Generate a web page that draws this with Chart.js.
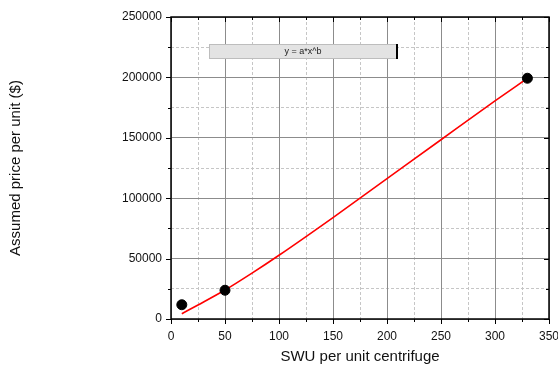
<!DOCTYPE html>
<html><head><meta charset="utf-8">
<script src="https://cdn.jsdelivr.net/npm/chart.js@4.4.1/dist/chart.umd.min.js"></script>
<style>html,body{margin:0;padding:0;background:#fff}#wrap{width:558px;height:369px}</style>
</head><body><div id="wrap"><canvas id="c" width="558" height="369"></canvas></div>
<script>
// measured data points
const swuPoints = [10, 50, 330];
const pricePoints = [11800, 23800, 199300];
// fitted curve y = a*x^b
const fitX = [10, 25, 50, 75, 100, 150, 200, 250, 300, 330];
const fitY = [4400, 11600, 24000, 38000, 52800, 84000, 116200, 148400, 180500, 199300];
// axis ticks
const xTicks = [0, 50, 100, 150, 200, 250, 300, 350];
const yTicks = [0, 50000, 100000, 150000, 200000, 250000];
const legendText = 'y = a*x^b';
const xTitle = 'SWU per unit centrifuge';
const yTitle = 'Assumed price per unit ($)';

const FONT = 'Liberation Sans, Arial, sans-serif';

const framePlugin = {
  id: 'frame',
  afterDraw(chart) {
    const ctx = chart.ctx, a = chart.chartArea;
    const xs = chart.scales.x, ys = chart.scales.y;
    ctx.save();
    ctx.strokeStyle = '#000';
    ctx.lineWidth = 1.5;
    ctx.strokeRect(a.left, a.top, a.right - a.left, a.bottom - a.top);
    ctx.lineWidth = 1;
    ctx.beginPath();
    for (let v = 0; v <= 350; v += 25) {
      const px = Math.round(xs.getPixelForValue(v)) + 0.5;
      const major = v % 50 === 0;
      const L = major ? 5 : 3;
      ctx.moveTo(px, a.bottom); ctx.lineTo(px, a.bottom + L);
      ctx.moveTo(px, a.top); ctx.lineTo(px, a.top + L);
    }
    for (let v = 0; v <= 250000; v += 25000) {
      const py = Math.round(ys.getPixelForValue(v)) + 0.5;
      const major = v % 50000 === 0;
      const L = major ? 5 : 3;
      ctx.moveTo(a.left, py); ctx.lineTo(a.left - L, py);
      ctx.moveTo(a.right, py); ctx.lineTo(a.right - L, py);
    }
    ctx.stroke();
    // legend box
    const bx = 209, by = 44, bw = 188, bh = 15;
    ctx.fillStyle = '#e3e3e3';
    ctx.fillRect(bx, by, bw, bh);
    ctx.strokeStyle = '#bdbdbd';
    ctx.lineWidth = 1;
    ctx.strokeRect(bx + 0.5, by + 0.5, bw - 1, bh - 1);
    ctx.strokeStyle = '#000';
    ctx.lineWidth = 2;
    ctx.beginPath(); ctx.moveTo(bx + bw, by); ctx.lineTo(bx + bw, by + bh); ctx.stroke();
    ctx.fillStyle = '#222';
    ctx.font = '9px ' + FONT;
    ctx.textAlign = 'center';
    ctx.textBaseline = 'middle';
    ctx.fillText(legendText, bx + bw / 2, by + bh / 2 + 0.5);
    ctx.restore();
  }
};

new Chart(document.getElementById('c'), {
  type: 'scatter',
  data: {
    datasets: [
      {
        label: 'fit',
        data: fitX.map((x, i) => ({x: x, y: fitY[i]})),
        showLine: true,
        borderColor: '#ff0000',
        borderWidth: 1.6,
        pointRadius: 0,
        cubicInterpolationMode: 'monotone',
        order: 2
      },
      {
        label: 'data',
        data: swuPoints.map((x, i) => ({x: x, y: pricePoints[i]})),
        backgroundColor: '#000',
        borderColor: '#000',
        pointRadius: 5,
        order: 1
      }
    ]
  },
  options: {
    responsive: false,
    animation: false,
    devicePixelRatio: 1,
    layout: {padding: {top: 17, right: 9, left: 0, bottom: 0}},
    plugins: {legend: {display: false}, tooltip: {enabled: false}},
    scales: {
      xm: {
        type: 'linear', position: 'bottom', min: 0, max: 350,
        ticks: {display: false, stepSize: 25},
        grid: {drawTicks: false, color: c => (c.tick && c.tick.value % 50 !== 0) ? '#c6c6c6' : 'rgba(0,0,0,0)', lineWidth: 1},
        border: {display: false, dash: [3, 2]}
      },
      ym: {
        type: 'linear', position: 'left', min: 0, max: 250000,
        ticks: {display: false, stepSize: 25000},
        grid: {drawTicks: false, color: c => (c.tick && c.tick.value % 50000 !== 0) ? '#c6c6c6' : 'rgba(0,0,0,0)', lineWidth: 1},
        border: {display: false, dash: [3, 2]}
      },
      x: {
        type: 'linear', position: 'bottom', min: 0, max: 350,
        afterBuildTicks: s => { s.ticks = xTicks.map(v => ({value: v})); },
        ticks: {color: '#111', font: {family: FONT, size: 12}, padding: 10, maxRotation: 0, callback: v => String(v)},
        grid: {drawTicks: false, color: '#8c8c8c', lineWidth: 1},
        border: {display: false},
        title: {display: true, text: xTitle, color: '#111', font: {family: FONT, size: 15}, padding: {top: 4, bottom: 3}},
        afterFit: s => { s.height = 50; s.paddingRight = 0; s.paddingLeft = 0; }
      },
      y: {
        type: 'linear', position: 'left', min: 0, max: 250000,
        afterBuildTicks: s => { s.ticks = yTicks.map(v => ({value: v})); },
        ticks: {color: '#111', font: {family: FONT, size: 12}, padding: 9, callback: v => String(v)},
        grid: {drawTicks: false, color: '#8c8c8c', lineWidth: 1},
        border: {display: false},
        title: {display: true, text: yTitle, color: '#111', font: {family: FONT, size: 15}, padding: {top: 7, bottom: 4}},
        afterFit: s => { s.width = 171; }
      }
    }
  },
  plugins: [framePlugin]
});
</script></body></html>
